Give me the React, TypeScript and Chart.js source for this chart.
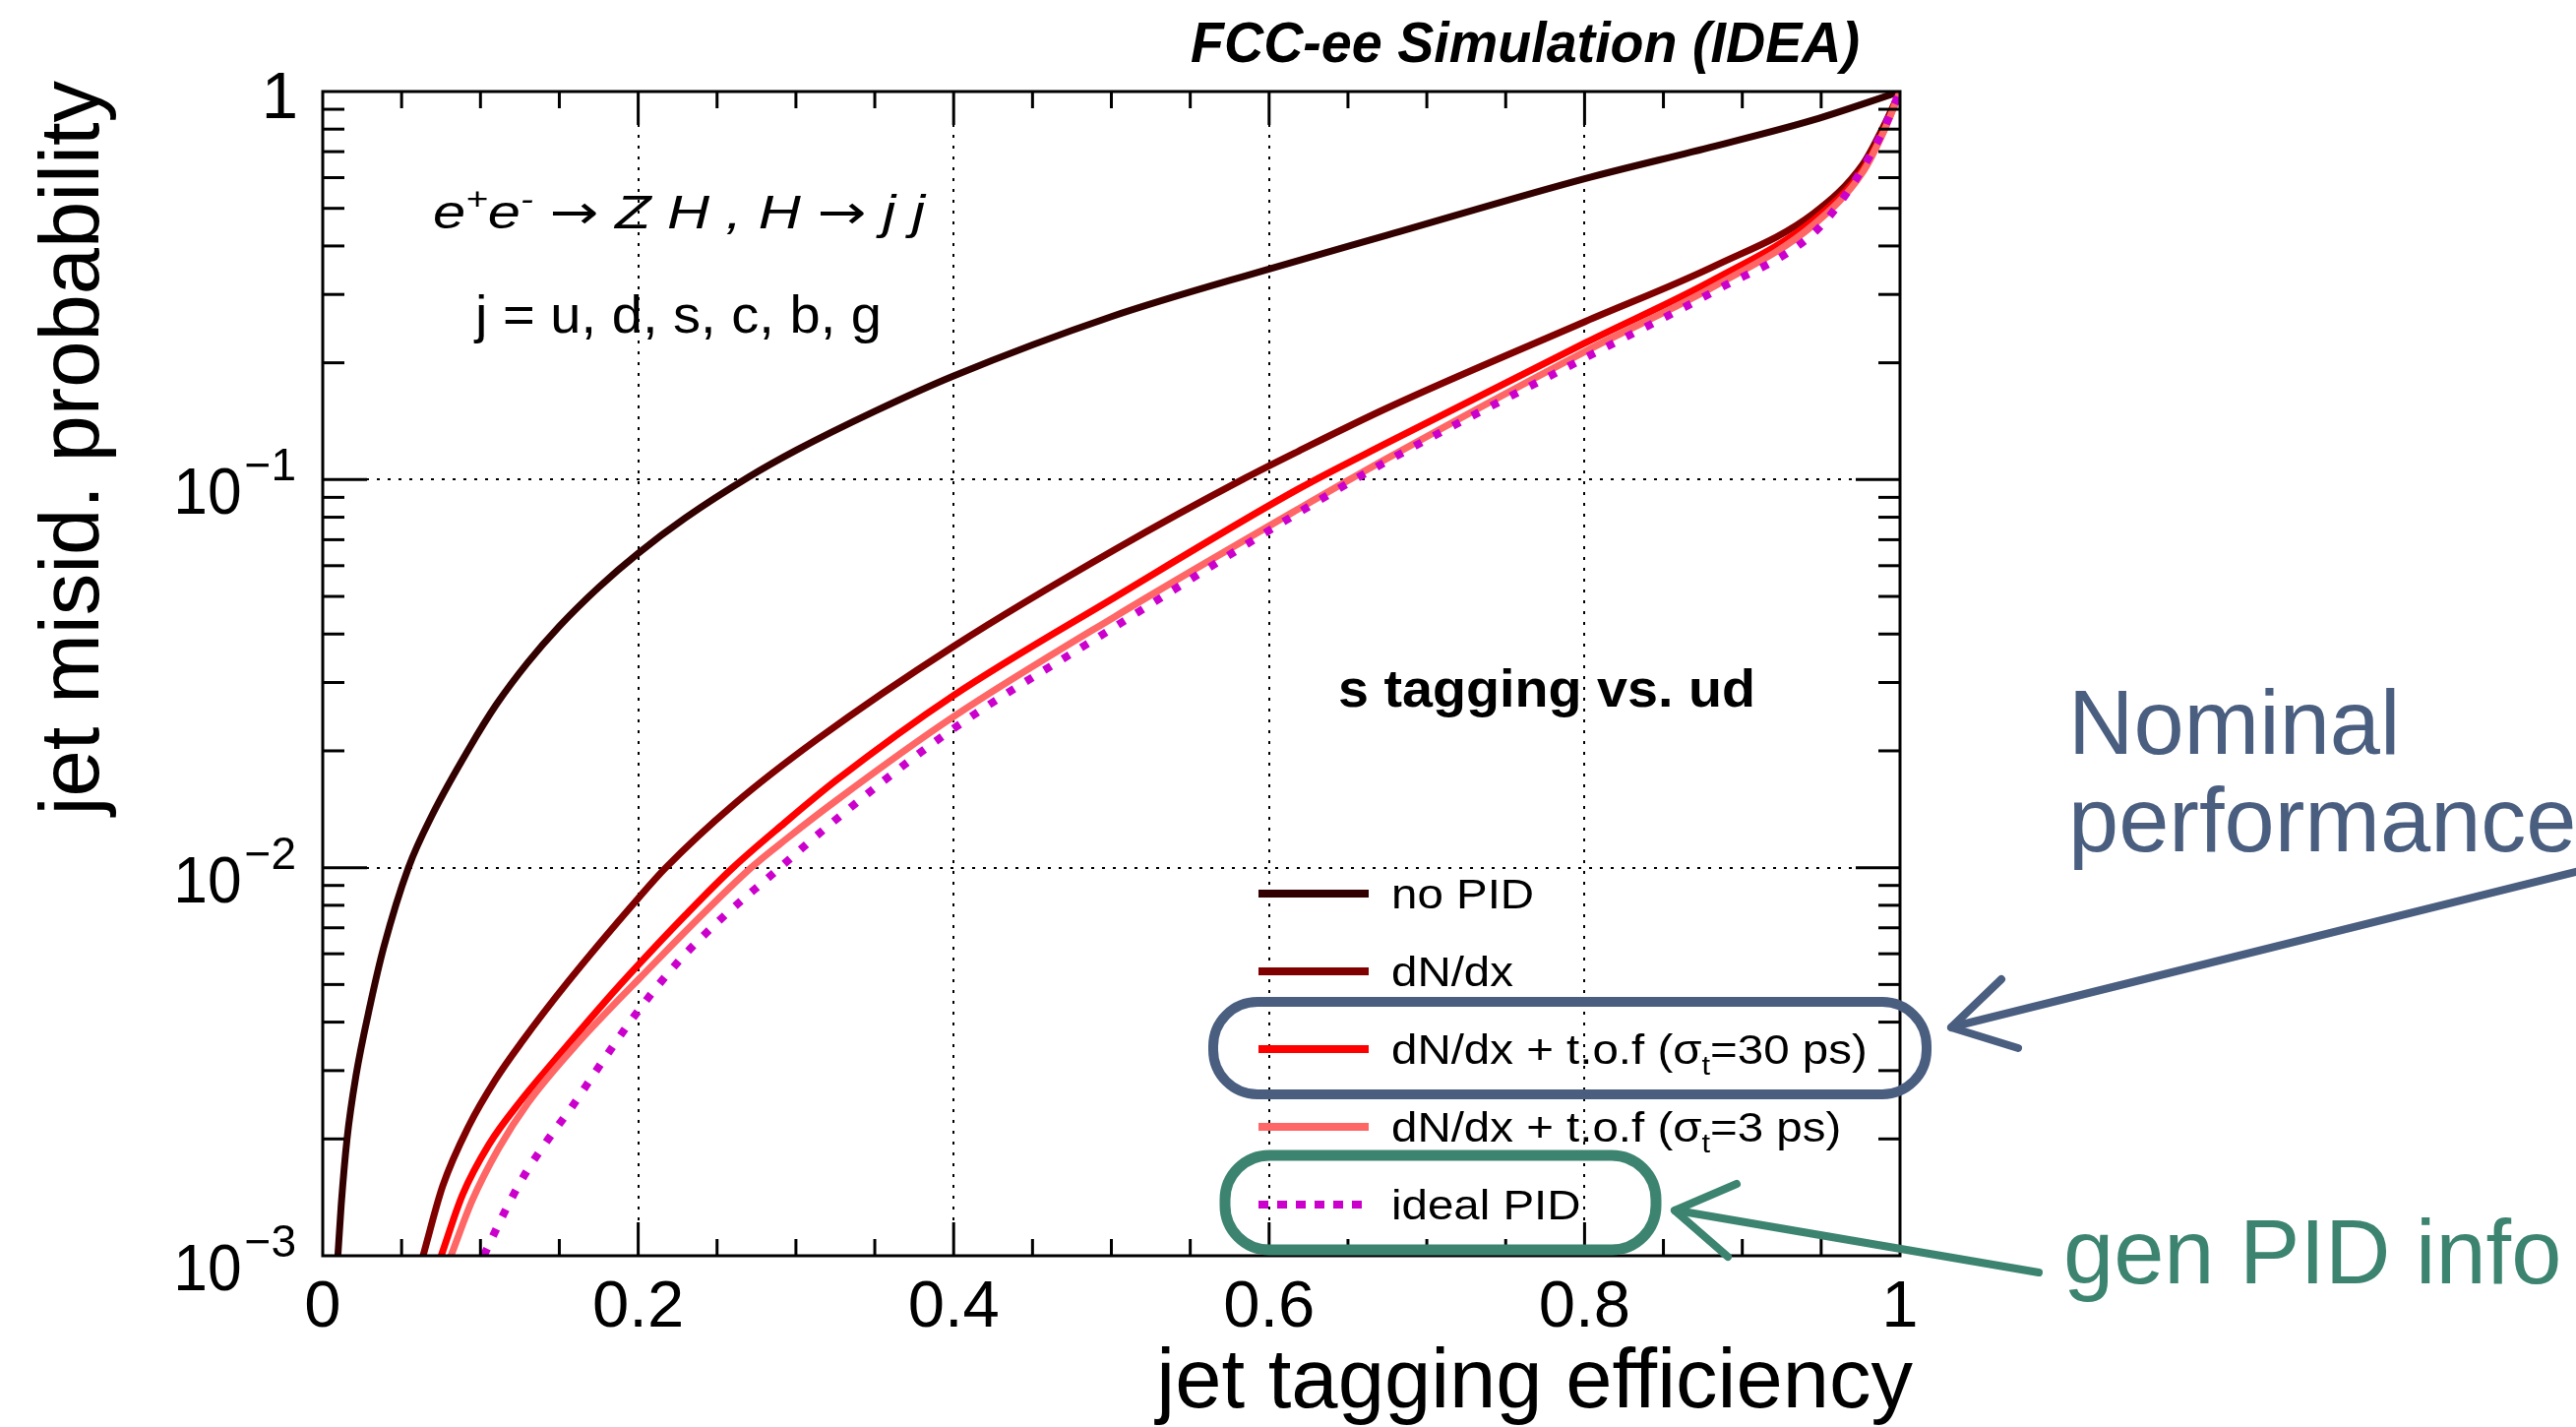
import React, { useEffect, useRef } from 'react';
import { Chart, registerables } from 'chart.js';

Chart.register(...registerables);

const W = 2618;
const H = 1450;
const FONT = '"Liberation Sans", Arial, Helvetica, sans-serif';
const SYMFONT = '"DejaVu Sans", sans-serif';

// ---------- data (jet tagging efficiency vs. jet misid. probability) ----------
const effNoPID = [0.0096, 0.0117, 0.0154, 0.021, 0.0303, 0.0387, 0.0543, 0.0699, 0.0928, 0.11, 0.13, 0.15, 0.175, 0.2, 0.23, 0.27, 0.3, 0.35, 0.4, 0.5, 0.6, 0.675, 0.8, 0.883, 0.945, 1.0];
const misNoPID = [0.001, 0.00135, 0.002, 0.0029, 0.00447, 0.00624, 0.01, 0.0138, 0.0203, 0.0263, 0.0338, 0.0419, 0.0528, 0.0646, 0.0797, 0.1015, 0.1189, 0.15, 0.185, 0.263, 0.349, 0.4266, 0.596, 0.724, 0.845, 1.0];

const effDNdx = [0.0636, 0.0761, 0.0928, 0.1094, 0.126, 0.1551, 0.1998, 0.2175, 0.2612, 0.3132, 0.4, 0.5024, 0.5856, 0.6188, 0.675, 0.8004, 0.883, 0.9453, 0.9765, 0.99, 1.0];
const misDNdx = [0.001, 0.001514, 0.002168, 0.002838, 0.003548, 0.005058, 0.008318, 0.01, 0.01462, 0.02138, 0.0372, 0.0661, 0.1013, 0.1185, 0.153, 0.2554, 0.356, 0.4855, 0.65, 0.82, 1.0];

const effTof30 = [0.0751, 0.0886, 0.1052, 0.126, 0.1468, 0.178, 0.1998, 0.23, 0.2601, 0.2924, 0.3256, 0.4, 0.5024, 0.6188, 0.675, 0.8004, 0.883, 0.9453, 0.9765, 0.99, 1.0];
const misTof30 = [0.001, 0.001435, 0.00193, 0.00252, 0.00318, 0.00447, 0.0056, 0.00755, 0.01, 0.013, 0.0168, 0.0278, 0.0498, 0.0947, 0.1244, 0.225, 0.329, 0.467, 0.63, 0.8, 1.0];

const effTof3 = [0.0813, 0.0948, 0.1115, 0.1302, 0.16, 0.2009, 0.2716, 0.2944, 0.3256, 0.4, 0.5024, 0.6188, 0.675, 0.8004, 0.883, 0.9453, 0.9765, 0.99, 1.0];
const misTof3 = [0.001, 0.00139, 0.00189, 0.00248, 0.00347, 0.00519, 0.01, 0.0119, 0.0149, 0.0245, 0.0444, 0.0841, 0.1135, 0.214, 0.316, 0.454, 0.621, 0.794, 1.0];

const effIdeal = [0.1021, 0.1146, 0.1281, 0.1427, 0.1583, 0.1739, 0.1978, 0.2248, 0.2539, 0.2851, 0.3173, 0.3943, 0.5024, 0.6167, 0.675, 0.8004, 0.883, 0.9453, 0.966, 0.987, 1.0];
const misIdeal = [0.001, 0.00128, 0.00162, 0.00199, 0.00243, 0.00302, 0.00416, 0.00569, 0.00747, 0.00962, 0.0125, 0.022, 0.0418, 0.0813, 0.1117, 0.206, 0.307, 0.432, 0.546, 0.76, 1.0];

const seriesLabels = ['no PID', 'dN/dx', 'dN/dx + t.o.f (σ_{t}=30 ps)', 'dN/dx + t.o.f (σ_{t}=3 ps)', 'ideal PID'];
const seriesColors = ['#330000', '#800000', '#ff0000', '#ff6666', '#cc00cc'];

// ---------- axes & labels ----------
const xTickValues = [0, 0.2, 0.4, 0.6, 0.8, 1];
const xTickLabels = ['0', '0.2', '0.4', '0.6', '0.8', '1'];
const yTickValues = [1, 0.1, 0.01, 0.001];
const yTickBase = ['1', '10', '10', '10'];
const yTickExp = ['', '−1', '−2', '−3'];
const xTitle = 'jet tagging efficiency';
const yTitle = 'jet misid. probability';
const topLabel = 'FCC-ee Simulation (IDEA)';
const processLabel = 'e^{+}e^{-} → Z H , H → j j';
const jetLabel = 'j = u, d, s, c, b, g';
const taggingLabel = 's tagging vs. ud';
const nominalLines = ['Nominal', 'performance'];
const genLabel = 'gen PID info';

type Seg = { t: string; size: number; dy: number; sym: boolean };

function parseRich(s: string, size: number): Seg[] {
  const out: Seg[] = [];
  s.split(/(\^\{[^}]*\}|_\{[^}]*\})/)
    .filter((p) => p.length > 0)
    .forEach((p) => {
      if (p.startsWith('^{')) out.push({ t: p.slice(2, -1), size: size * 0.65, dy: -size * 0.4, sym: false });
      else if (p.startsWith('_{')) out.push({ t: p.slice(2, -1), size: size * 0.65, dy: size * 0.25, sym: false });
      else
        p.split(/(→)/)
          .filter((q) => q.length > 0)
          .forEach((q) => out.push({ t: q, size, dy: 0, sym: q === '→' }));
    });
  return out;
}

function drawRich(
  ctx: CanvasRenderingContext2D,
  s: string,
  x: number,
  y: number,
  size: number,
  o: { style?: string; weight?: string; color?: string; align?: string; width?: number; sx?: number } = {}
) {
  const segs = parseRich(s, size);
  const fontOf = (sg: Seg) =>
    sg.sym ? `normal normal ${sg.size}px ${SYMFONT}` : `${o.style || 'normal'} ${o.weight || 'normal'} ${sg.size}px ${FONT}`;
  let total = 0;
  const ws = segs.map((sg) => {
    ctx.font = fontOf(sg);
    const w = ctx.measureText(sg.t).width;
    total += w;
    return w;
  });
  const sx = o.width ? o.width / total : o.sx || 1;
  const dw = total * sx;
  const x0 = o.align === 'right' ? x - dw : o.align === 'center' ? x - dw / 2 : x;
  ctx.save();
  ctx.translate(x0, y);
  ctx.scale(sx, 1);
  ctx.fillStyle = o.color || '#000';
  ctx.textAlign = 'left';
  ctx.textBaseline = 'alphabetic';
  let cx = 0;
  segs.forEach((sg, i) => {
    ctx.font = fontOf(sg);
    ctx.fillText(sg.t, cx, sg.dy);
    cx += ws[i];
  });
  ctx.restore();
}

function seg(ctx: CanvasRenderingContext2D, x1: number, y1: number, x2: number, y2: number) {
  ctx.beginPath();
  ctx.moveTo(x1, y1);
  ctx.lineTo(x2, y2);
  ctx.stroke();
}

const rootPlugin = {
  id: 'rootStyle',
  beforeDatasetsDraw(chart: any) {
    const { ctx, chartArea: a, scales } = chart;
    const xs = scales.x;
    const ys = scales.y;
    ctx.save();
    ctx.strokeStyle = '#000';
    ctx.lineWidth = 2;
    ctx.setLineDash([3, 8]);
    xTickValues.slice(1, -1).forEach((v) => {
      const px = Math.round(xs.getPixelForValue(v));
      seg(ctx, px, a.top, px, a.bottom);
    });
    yTickValues.slice(1, -1).forEach((v) => {
      const py = Math.round(ys.getPixelForValue(v));
      seg(ctx, a.left, py, a.right, py);
    });
    ctx.restore();
  },
  afterDatasetsDraw(chart: any) {
    const { ctx, chartArea: a, scales } = chart;
    const xs = scales.x;
    const ys = scales.y;
    ctx.save();
    ctx.strokeStyle = '#000';
    ctx.lineWidth = 3;
    ctx.setLineDash([]);
    ctx.strokeRect(a.left, a.top, a.right - a.left, a.bottom - a.top);
    for (let i = 1; i < 20; i++) {
      const v = i * 0.05;
      const major = i % 4 === 0;
      const len = major ? 34 : 17;
      const px = xs.getPixelForValue(v);
      seg(ctx, px, a.bottom, px, a.bottom - len);
      seg(ctx, px, a.top, px, a.top + len);
    }
    [0.001, 0.01, 0.1].forEach((dec) => {
      for (let m = 1; m <= 9; m++) {
        const v = dec * m;
        const major = m === 1;
        if (major && dec === 0.001) continue;
        const len = major ? 45 : 22;
        const py = ys.getPixelForValue(v);
        seg(ctx, a.left, py, a.left + len, py);
        seg(ctx, a.right, py, a.right - len, py);
      }
    });
    ctx.restore();
  },
  afterDraw(chart: any) {
    const { ctx, chartArea: a, scales } = chart;
    const xs = scales.x;
    const ys = scales.y;
    ctx.save();
    xTickValues.forEach((v, i) => {
      drawRich(ctx, xTickLabels[i], xs.getPixelForValue(v), a.bottom + 72, 67, { align: 'center' });
    });
    yTickValues.forEach((v, i) => {
      const py = ys.getPixelForValue(v);
      if (!yTickExp[i]) {
        drawRich(ctx, yTickBase[i], 303, py + 27, 67, { align: 'right' });
      } else {
        ctx.font = `normal normal 46px ${FONT}`;
        const ew = ctx.measureText(yTickExp[i]).width;
        ctx.fillStyle = '#000';
        ctx.textAlign = 'right';
        ctx.fillText(yTickExp[i], 301, py + 1);
        drawRich(ctx, yTickBase[i], 301 - ew - 3, py + 35, 67, { align: 'right', sx: 0.93 });
      }
    });
    drawRich(ctx, xTitle, 1944, 1430, 85, { align: 'right' });
    ctx.save();
    ctx.translate(100, 82);
    ctx.rotate(-Math.PI / 2);
    drawRich(ctx, yTitle, 0, 0, 85, { align: 'right' });
    ctx.restore();

    drawRich(ctx, topLabel, 1890, 63, 57, { style: 'italic', weight: 'bold', align: 'right', width: 680 });
    drawRich(ctx, processLabel, 440, 232, 48, { style: 'italic', width: 500 });
    drawRich(ctx, jetLabel, 483, 338, 53, { width: 413 });
    drawRich(ctx, taggingLabel, 1360, 718, 53, { weight: 'bold', width: 424 });

    seriesLabels.forEach((lab, i) => {
      const base = 923 + i * 79;
      const ly = base - 15;
      ctx.save();
      ctx.strokeStyle = seriesColors[i];
      ctx.lineWidth = 8;
      ctx.lineCap = 'butt';
      ctx.setLineDash(i === 4 ? [10, 9] : []);
      seg(ctx, 1279, ly, 1391, ly);
      ctx.restore();
      drawRich(ctx, lab, 1414, base, 42, { sx: 1.13 });
    });

    const blue = '#4a5e80';
    const green = '#3d8470';
    ctx.lineJoin = 'round';
    ctx.lineCap = 'round';
    ctx.setLineDash([]);
    ctx.strokeStyle = blue;
    ctx.lineWidth = 10;
    ctx.beginPath();
    (ctx as any).roundRect(1233, 1018, 725, 94, 45);
    ctx.stroke();
    ctx.lineWidth = 8;
    seg(ctx, 2630, 883, 1986, 1043);
    seg(ctx, 1983, 1044, 2034, 995);
    seg(ctx, 1983, 1044, 2051, 1065);

    ctx.strokeStyle = green;
    ctx.lineWidth = 11;
    ctx.beginPath();
    (ctx as any).roundRect(1245, 1174, 438, 96, 45);
    ctx.stroke();
    ctx.lineWidth = 8;
    seg(ctx, 2072, 1293, 1704, 1230);
    seg(ctx, 1702, 1230, 1765, 1203);
    seg(ctx, 1702, 1230, 1756, 1277);

    drawRich(ctx, nominalLines[0], 2102, 766, 92, { color: blue });
    drawRich(ctx, nominalLines[1], 2102, 865, 92, { color: blue });
    drawRich(ctx, genLabel, 2097, 1304, 92, { color: green });
    ctx.restore();
  },
};

const effs = [effNoPID, effDNdx, effTof30, effTof3, effIdeal];
const miss = [misNoPID, misDNdx, misTof30, misTof3, misIdeal];

export default function App() {
  const ref = useRef<HTMLCanvasElement | null>(null);
  useEffect(() => {
    if (!ref.current) return;
    const datasets = effs.map((ex, k) => ({
      label: seriesLabels[k],
      data: ex.map((x, i) => ({ x, y: miss[k][i] })),
      borderColor: seriesColors[k],
      backgroundColor: seriesColors[k],
      borderWidth: k === 4 ? 8 : 7,
      borderDash: k === 4 ? [8, 14] : [],
      borderCapStyle: 'butt' as const,
      pointRadius: 0,
      fill: false,
      cubicInterpolationMode: 'monotone' as const,
      clip: 0,
      order: 5 - k,
    }));
    const chart = new Chart(ref.current, {
      type: 'line',
      data: { datasets },
      options: {
        animation: false,
        responsive: false,
        devicePixelRatio: 1,
        layout: { padding: { left: 328, right: W - 1931, top: 93, bottom: H - 1276 } },
        scales: {
          x: { type: 'linear', min: 0, max: 1, display: false },
          y: { type: 'logarithmic', min: 0.001, max: 1, display: false },
        },
        plugins: { legend: { display: false }, tooltip: { enabled: false } },
      },
      plugins: [rootPlugin],
    });
    return () => chart.destroy();
  }, []);
  return (
    <div style={{ position: 'fixed', left: 0, top: 0, width: W, height: H, background: '#fff' }}>
      <canvas ref={ref} width={W} height={H} style={{ width: W, height: H, display: 'block' }} />
    </div>
  );
}
